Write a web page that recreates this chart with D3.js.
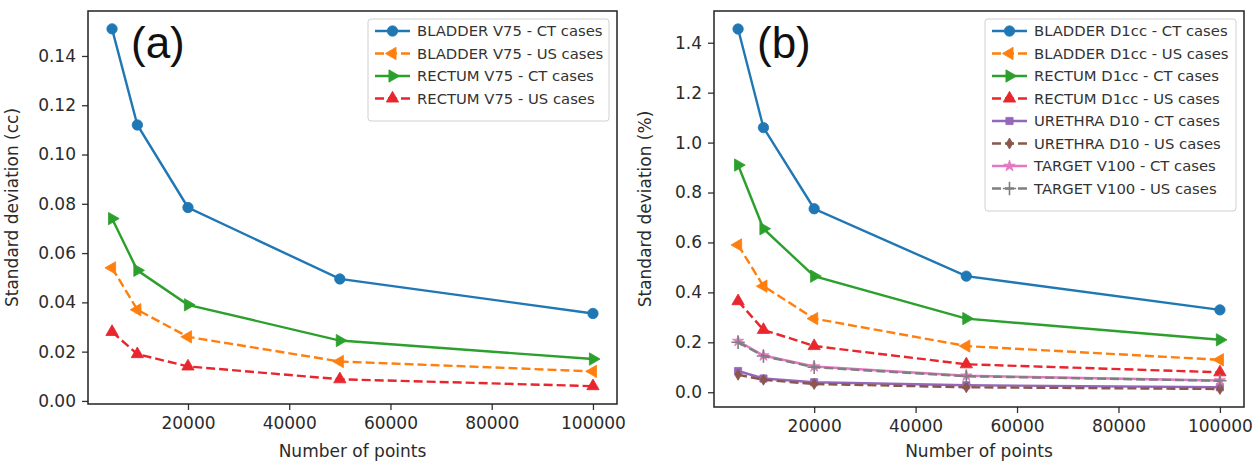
<!DOCTYPE html>
<html>
<head>
<meta charset="utf-8">
<script src="https://cdn.jsdelivr.net/npm/d3@7"></script>
<style>
  body { margin: 0; background: #fff; }
  svg { display: block; font-family: "DejaVu Sans", sans-serif; }
</style>
</head>
<body>
<div id="chart"></div>
<script>
// shared x values (number of points)
const xPoints = [5000, 10000, 20000, 50000, 100000];
const xTicks = [20000, 40000, 60000, 80000, 100000];

// panel (a)
const bladderV75CT = [0.151, 0.112, 0.0785, 0.0495, 0.0355];
const bladderV75US = [0.054, 0.037, 0.026, 0.016, 0.012];
const rectumV75CT = [0.074, 0.053, 0.039, 0.0245, 0.017];
const rectumV75US = [0.028, 0.019, 0.014, 0.0088, 0.006];
const ticksA = [0, 0.02, 0.04, 0.06, 0.08, 0.10, 0.12, 0.14];

// panel (b)
const bladderD1ccCT = [1.455, 1.06, 0.735, 0.465, 0.33];
const bladderD1ccUS = [0.59, 0.425, 0.295, 0.185, 0.13];
const rectumD1ccCT = [0.91, 0.655, 0.465, 0.295, 0.21];
const rectumD1ccUS = [0.365, 0.25, 0.185, 0.112, 0.08];
const urethraD10CT = [0.085, 0.055, 0.04, 0.028, 0.02];
const urethraD10US = [0.07, 0.05, 0.033, 0.02, 0.013];
const targetV100CT = [0.205, 0.147, 0.103, 0.066, 0.047];
const targetV100US = [0.2, 0.145, 0.1, 0.064, 0.046];
const ticksB = [0, 0.2, 0.4, 0.6, 0.8, 1.0, 1.2, 1.4];

const seriesA = [
  { name: "BLADDER V75 - CT cases", values: bladderV75CT, color: "#1f77b4", dash: false, marker: "circle" },
  { name: "BLADDER V75 - US cases", values: bladderV75US, color: "#ff7f0e", dash: true, marker: "left" },
  { name: "RECTUM V75 - CT cases", values: rectumV75CT, color: "#2ca02c", dash: false, marker: "right" },
  { name: "RECTUM V75 - US cases", values: rectumV75US, color: "#e8262e", dash: true, marker: "up" }
];

const seriesB = [
  { name: "BLADDER D1cc - CT cases", values: bladderD1ccCT, color: "#1f77b4", dash: false, marker: "circle" },
  { name: "BLADDER D1cc - US cases", values: bladderD1ccUS, color: "#ff7f0e", dash: true, marker: "left" },
  { name: "RECTUM D1cc - CT cases", values: rectumD1ccCT, color: "#2ca02c", dash: false, marker: "right" },
  { name: "RECTUM D1cc - US cases", values: rectumD1ccUS, color: "#e8262e", dash: true, marker: "up" },
  { name: "URETHRA D10 - CT cases", values: urethraD10CT, color: "#9467bd", dash: false, marker: "square" },
  { name: "URETHRA D10 - US cases", values: urethraD10US, color: "#8c564b", dash: true, marker: "thindiamond" },
  { name: "TARGET V100 - CT cases", values: targetV100CT, color: "#e377c2", dash: false, marker: "star" },
  { name: "TARGET V100 - US cases", values: targetV100US, color: "#7f7f7f", dash: true, marker: "plus" }
];

const width = 1260;
const height = 461;

const svg = d3.select("#chart")
  .append("svg")
  .attr("width", width)
  .attr("height", height);

function markerPath(type) {
  if (type === "circle") return d3.symbol(d3.symbolCircle, 85)();
  if (type === "up" || type === "left" || type === "right") return d3.symbol(d3.symbolTriangle, 66)();
  if (type === "square") return d3.symbol(d3.symbolSquare, 52)();
  if (type === "star") return d3.symbol(d3.symbolStar, 40)();
  if (type === "plus") return d3.symbol(d3.symbolPlus, 60)();
  if (type === "thindiamond") return "M0,-5.5L3.3,0L0,5.5L-3.3,0Z";
  return d3.symbol(d3.symbolCircle, 85)();
}

function markerRotate(type) {
  if (type === "left") return -90;
  if (type === "right") return 90;
  return 0;
}

function drawMarker(g, s, x, y) {
  const m = g.append("path")
    .attr("d", markerPath(s.marker))
    .attr("transform", `translate(${x},${y}) rotate(${markerRotate(s.marker)})`);
  if (s.marker === "plus") {
    m.attr("fill", "none").attr("stroke", s.color).attr("stroke-width", 1.6);
  } else {
    m.attr("fill", s.color).attr("stroke", s.color).attr("stroke-width", 0.8);
  }
}

function drawPanel(cfg) {
  const g = svg.append("g");

  const x = d3.scaleLinear().domain([250, 104750]).range([cfg.left, cfg.right]);

  // matplotlib style 5% margins on y
  const all = cfg.series.flatMap(s => s.values);
  const lo = d3.min(all), hi = d3.max(all);
  const pad = (hi - lo) * 0.05;
  const y = d3.scaleLinear().domain([lo - pad, hi + pad]).range([cfg.bottom, cfg.top]);

  const line = d3.line()
    .x((d, i) => x(xPoints[i]))
    .y(d => y(d));

  cfg.series.forEach(s => {
    g.append("path")
      .datum(s.values)
      .attr("d", line)
      .attr("fill", "none")
      .attr("stroke", s.color)
      .attr("stroke-width", 2.4)
      .attr("stroke-dasharray", s.dash ? "9,4" : null);

    s.values.forEach((v, i) => drawMarker(g, s, x(xPoints[i]), y(v)));
  });

  // axes
  const xAxis = d3.axisBottom(x).tickValues(xTicks).tickSize(6).tickPadding(7).tickFormat(d3.format("d"));
  const yAxis = d3.axisLeft(y).tickValues(cfg.ticks).tickSize(6).tickPadding(6).tickFormat(d3.format(cfg.fmt));

  const gx = g.append("g")
    .attr("transform", `translate(0,${cfg.bottom})`)
    .call(xAxis);
  const gy = g.append("g")
    .attr("transform", `translate(${cfg.left},0)`)
    .call(yAxis);

  [gx, gy].forEach(a => {
    a.select(".domain").remove();
    a.selectAll(".tick line").attr("stroke", "#333").attr("stroke-width", 1.3);
    a.selectAll(".tick text")
      .attr("fill", "#2b2b2b")
      .style("font-size", "17px")
      .style("font-family", "DejaVu Sans, sans-serif");
  });

  // frame
  g.append("rect")
    .attr("x", cfg.left)
    .attr("y", cfg.top)
    .attr("width", cfg.right - cfg.left)
    .attr("height", cfg.bottom - cfg.top)
    .attr("fill", "none")
    .attr("stroke", "#222")
    .attr("stroke-width", 1.5);

  // axis labels
  g.append("text")
    .attr("x", (cfg.left + cfg.right) / 2)
    .attr("y", 457)
    .attr("text-anchor", "middle")
    .attr("fill", "#2b2b2b")
    .style("font-size", "17px")
    .text("Number of points");

  g.append("text")
    .attr("transform", `translate(${cfg.left - cfg.ylabelOffset},${(cfg.top + cfg.bottom) / 2}) rotate(-90)`)
    .attr("text-anchor", "middle")
    .attr("fill", "#2b2b2b")
    .style("font-size", "17px")
    .text(cfg.ylabel);

  // panel letter
  g.append("text")
    .attr("x", cfg.left + 43)
    .attr("y", 58)
    .attr("fill", "#111")
    .style("font-family", "Liberation Sans, Arial, sans-serif")
    .style("font-size", "44px")
    .text(cfg.letter);

  // legend
  const rowH = 22.5;
  const lg = g.append("g")
    .attr("transform", `translate(${cfg.legendX},${cfg.top + 8})`);

  lg.append("rect")
    .attr("width", cfg.right - 8 - cfg.legendX)
    .attr("height", cfg.series.length * rowH + 12)
    .attr("rx", 3)
    .attr("fill", "#fff")
    .attr("fill-opacity", 0.85)
    .attr("stroke", "#d0d0d0");

  cfg.series.forEach((s, i) => {
    const cy = 12 + i * rowH;
    lg.append("line")
      .attr("x1", 7)
      .attr("x2", 42)
      .attr("y1", cy)
      .attr("y2", cy)
      .attr("stroke", s.color)
      .attr("stroke-width", 2.4)
      .attr("stroke-dasharray", s.dash ? "9,4" : null);
    drawMarker(lg, s, 24.5, cy);
    lg.append("text")
      .attr("x", 49)
      .attr("y", cy + 5)
      .attr("fill", "#333")
      .style("font-size", "14.8px")
      .text(s.name);
  });
}

drawPanel({
  series: seriesA, ticks: ticksA, fmt: ".2f",
  left: 88, right: 617, top: 11, bottom: 404,
  ylabel: "Standard deviation (cc)", ylabelOffset: 70, letter: "(a)", legendX: 368
});

drawPanel({
  series: seriesB, ticks: ticksB, fmt: ".1f",
  left: 714, right: 1244, top: 11, bottom: 407,
  ylabel: "Standard deviation (%)", ylabelOffset: 63, letter: "(b)", legendX: 985
});
</script>
</body>
</html>
